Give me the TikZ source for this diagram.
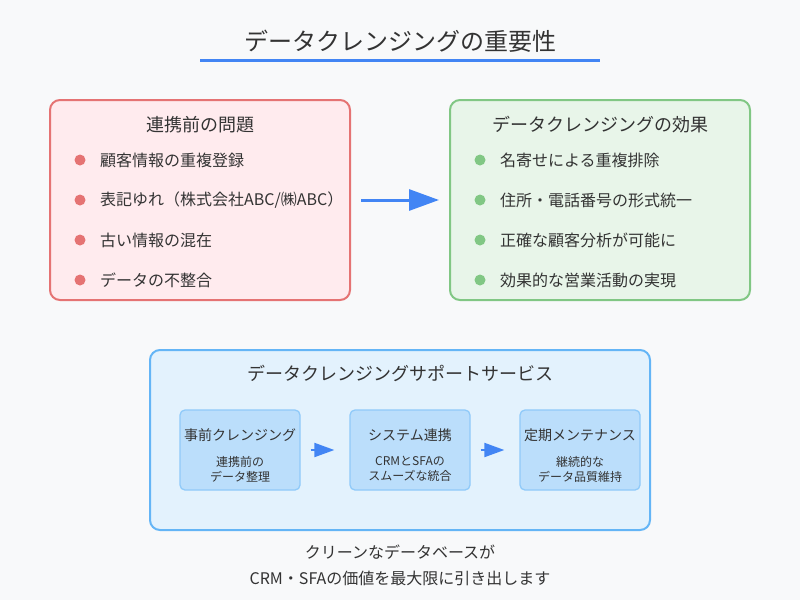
\documentclass[tikz,border=0pt]{standalone}
\usepackage{fontspec}
\setmainfont{Noto Sans CJK JP}
\usetikzlibrary{arrows.meta}
\definecolor{bg}{HTML}{F8F9FA}
\definecolor{txt}{HTML}{333333}
\definecolor{blu}{HTML}{4285F4}
\definecolor{pinkf}{HTML}{FFEBEE}
\definecolor{pinks}{HTML}{E57373}
\definecolor{greenf}{HTML}{E8F5E9}
\definecolor{greens}{HTML}{81C784}
\definecolor{bluef}{HTML}{E3F2FD}
\definecolor{blues}{HTML}{64B5F6}
\definecolor{subf}{HTML}{BBDEFB}
\definecolor{subs}{HTML}{90CAF9}
\tikzset{
  fs/.style 2 args={font=\fontsize{#1}{#2}\selectfont},
  panel/.style={draw=#1, line width=2pt, rounded corners=10pt, minimum width=300pt, minimum height=200pt, inner sep=0pt},
  subbox/.style={draw=subs, fill=subf, line width=1.3pt, rounded corners=5pt, minimum width=120pt, minimum height=80pt, inner sep=0pt},
  bul/.style={circle, fill=#1, minimum size=11pt, inner sep=0pt},
  item/.style={anchor=west, text=txt, fs={16}{19}, inner sep=0pt},
  bigarrow/.style={draw=blu, line width=3pt, -{Triangle[length=30pt,width=21pt]}},
  smallarrow/.style={draw=blu, line width=2pt, -{Triangle[length=20pt,width=14pt]}},
}
\begin{document}
\begin{tikzpicture}[x=1pt,y=-1pt]
\fill[bg] (0,0) rectangle (800,600);
\useasboundingbox (0,0) rectangle (800,600);
\node[text=txt, fs={24}{28}] (title) at (400,41) {データクレンジングの重要性};
\coordinate (ul1) at (200,60);
\coordinate (ul2) at (600,60);
\draw[blu, line width=3pt] (ul1) -- (ul2);

% left panel
\node[panel=pinks, fill=pinkf] (left) at (200,200) {};
\node[text=txt, fs={18}{21}] (lt) at (200,125) {連携前の問題};
\foreach \y/\t [count=\i] in {160/{顧客情報の重複登録}, 200/{表記ゆれ（株式会社ABC/㈱ABC）}, 240/{古い情報の混在}, 280/{データの不整合}}{
  \node[bul=pinks] (lb\i) at (80,\y) {};
  \node[item] (li\i) at (100,\y) {\t};
}

% right panel
\node[panel=greens, fill=greenf] (right) at (600,200) {};
\node[text=txt, fs={18}{21}] (rt) at (600,125) {データクレンジングの効果};
\foreach \y/\t [count=\i] in {160/{名寄せによる重複排除}, 200/{住所・電話番号の形式統一}, 240/{正確な顧客分析が可能に}, 280/{効果的な営業活動の実現}}{
  \node[bul=greens] (rb\i) at (480,\y) {};
  \node[item] (ri\i) at (500,\y) {\t};
}

\draw[bigarrow, shorten <=10pt, shorten >=10pt] (left.east) -- (right.west);

% bottom panel
\node[draw=blues, fill=bluef, line width=2pt, rounded corners=10pt, minimum width=500pt, minimum height=180pt, inner sep=0pt] (bottom) at (400,440) {};
\node[text=txt, fs={18}{21}] (bt) at (400,373) {データクレンジングサポートサービス};

\node[subbox] (s1) at (240,450) {};
\node[subbox] (s2) at (410,450) {};
\node[subbox] (s3) at (580,450) {};
\node[text=txt, fs={14}{17}] (s1t) at (240,435) {事前クレンジング};
\node[text=txt, fs={14}{17}] (s2t) at (410,435) {システム連携};
\node[text=txt, fs={14}{17}] (s3t) at (580,435) {定期メンテナンス};
\node[text=txt, fs={12}{15}, align=center] (s1d) at (240,469) {連携前の\\データ整理};
\node[text=txt, fs={12}{15}, align=center] (s2d) at (410,469) {CRMとSFAの\\スムーズな統合};
\node[text=txt, fs={12}{15}, align=center] (s3d) at (580,469) {継続的な\\データ品質維持};

\draw[smallarrow, shorten <=10pt, shorten >=15pt] (s1.east) -- (s2.west);
\draw[smallarrow, shorten <=10pt, shorten >=15pt] (s2.east) -- (s3.west);

\node[text=txt, fs={16}{19}] (f1) at (400,552) {クリーンなデータベースが};
\node[text=txt, fs={16}{19}] (f2) at (400,578) {CRM・SFAの価値を最大限に引き出します};
\end{tikzpicture}
\end{document}
